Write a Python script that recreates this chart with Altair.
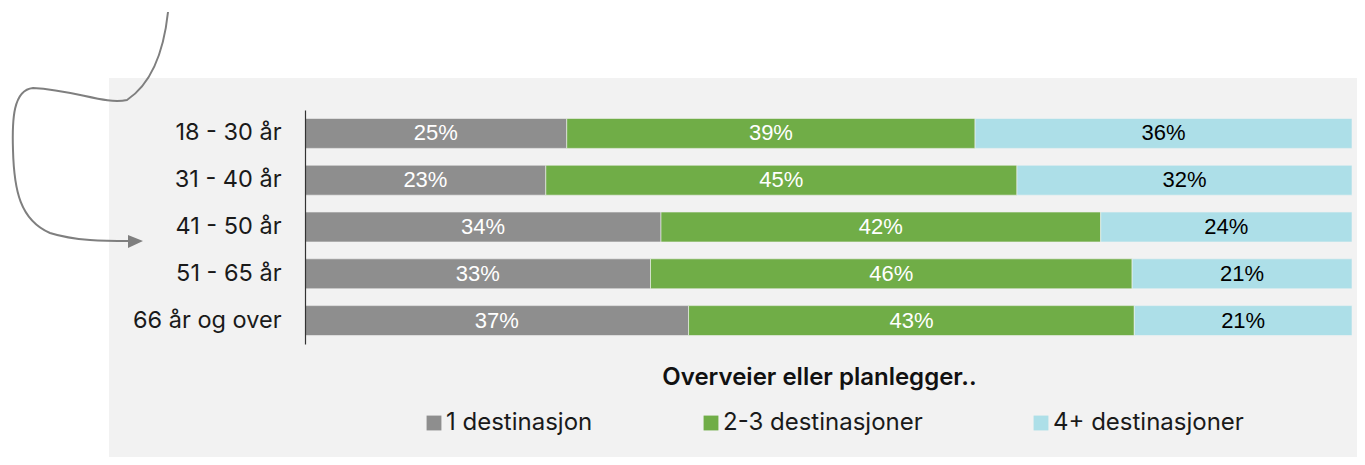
import altair as alt
import pandas as pd

ages = ["18 - 30 år", "31 - 40 år", "41 - 50 år", "51 - 65 år", "66 år og over"]
categories = ["1 destinasjon", "2-3 destinasjoner", "4+ destinasjoner"]
one_dest = [25, 23, 34, 33, 37]
two_three = [39, 45, 42, 46, 43]
four_plus = [36, 32, 24, 21, 21]
colors = ["#8e8e8e", "#70ad47", "#addfe8"]
text_colors = ["white", "white", "black"]

rows = []
for i, a in enumerate(ages):
    for j, (c, vals) in enumerate(zip(categories, [one_dest, two_three, four_plus])):
        rows.append({"age": a, "cat": c, "value": vals[i], "order": j,
                     "label": f"{vals[i]}%", "tcolor": text_colors[j]})
df = pd.DataFrame(rows)

FONT = "Inter"
BAR_FONT = "Liberation Sans"
W, H = 1047, 234

base = alt.Chart(df).transform_joinaggregate(
    total="sum(value)", groupby=["age"]
).transform_window(
    cum="sum(value)", groupby=["age"], sort=[alt.SortField("order", order="ascending")],
    frame=[None, 0]
).transform_calculate(
    start="(datum.cum - datum.value) / datum.total",
    end="datum.cum / datum.total",
    mid="(datum.cum - datum.value / 2) / datum.total",
)

yenc = alt.Y("age:N", sort=ages,
             scale=alt.Scale(paddingInner=0.36, paddingOuter=0.18),
             axis=alt.Axis(title=None, ticks=False, tickSize=0, labelPadding=24,
                           labelFontSize=23.5, labelFont=FONT, labelColor="#1a1a1a",
                           domainColor="#333333", domainWidth=1.2, grid=False, zindex=1))

bars = base.mark_bar(stroke="#f2f2f2", strokeWidth=0.6).encode(
    y=yenc,
    x=alt.X("start:Q", scale=alt.Scale(domain=[0, 1], nice=False),
            axis=alt.Axis(labels=False, ticks=False, domain=False, grid=False,
                          title="Overveier eller planlegger..",
                          titleFontSize=24, titleFont=FONT, titleFontWeight=600,
                          titleColor="#111111", titlePadding=21, titleX=514, zindex=1)),
    x2="end:Q",
    color=alt.Color("cat:N", sort=categories,
                    scale=alt.Scale(domain=categories, range=colors),
                    legend=alt.Legend(title=None, orient="none", direction="horizontal",
                                      legendX=117, legendY=301, symbolType="square",
                                      symbolSize=220, symbolStrokeWidth=0,
                                      labelFontSize=24, labelFont=FONT, labelColor="#1a1a1a",
                                      labelOffset=0, columnPadding=106, labelLimit=400,
                                      zindex=1)),
)

texts = base.mark_text(fontSize=22, font=BAR_FONT, baseline="middle", align="center").encode(
    y=alt.Y("age:N", sort=ages),
    x=alt.X("mid:Q"),
    text="label:N",
    color=alt.Color("tcolor:N", scale=None),
)

bgdf = pd.DataFrame({"a": [0]})
panel = alt.Chart(bgdf).mark_rect(color="#f2f2f2").encode(
    x=alt.value(-196), x2=alt.value(1052), y=alt.value(-32), y2=alt.value(347)
)

arrow_path = ("M -137 -98 C -140 -70 -148 -30 -178 -10 C -200 -5 -230 -20 -272 -22 "
              "C -292 -20 -293 10 -292 40 C -291 80 -285 110 -255 123 "
              "C -230 131 -200 131 -175 131")
arrow = alt.Chart(bgdf).mark_point(shape=arrow_path, filled=False, size=4,
                                    stroke="#7f7f7f", strokeWidth=2, opacity=1).encode(
    x=alt.value(0), y=alt.value(0)
)
head_path = "M -177 125 L -162 131 L -177 138 Z"
head = alt.Chart(bgdf).mark_point(shape=head_path, filled=True, size=4,
                                   color="#7f7f7f", opacity=1).encode(
    x=alt.value(0), y=alt.value(0)
)

chart = alt.layer(panel, bars, texts, arrow, head).properties(
    width=W, height=H,
    autosize=alt.AutoSizeParams(type="none"),
    padding={"left": 297, "top": 102, "right": 5, "bottom": 113},
    background="white",
).configure_view(strokeWidth=0)

chart.save("out.html", embed_options={"renderer": "svg", "actions": False})
